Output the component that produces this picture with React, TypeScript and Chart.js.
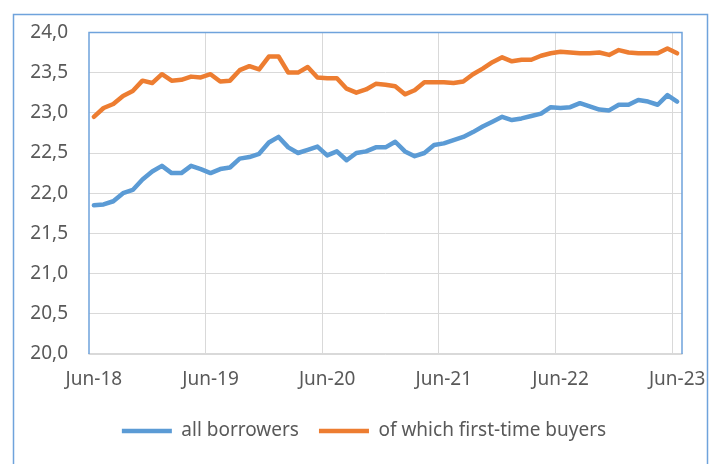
import React, { useEffect, useRef } from "react";
import { Chart, registerables } from "chart.js";

Chart.register(...registerables);

const months = [
  "Jun-18", "Jul-18", "Aug-18", "Sep-18", "Oct-18", "Nov-18", "Dec-18", "Jan-19", "Feb-19", "Mar-19", "Apr-19", "May-19",
  "Jun-19", "Jul-19", "Aug-19", "Sep-19", "Oct-19", "Nov-19", "Dec-19", "Jan-20", "Feb-20", "Mar-20", "Apr-20", "May-20",
  "Jun-20", "Jul-20", "Aug-20", "Sep-20", "Oct-20", "Nov-20", "Dec-20", "Jan-21", "Feb-21", "Mar-21", "Apr-21", "May-21",
  "Jun-21", "Jul-21", "Aug-21", "Sep-21", "Oct-21", "Nov-21", "Dec-21", "Jan-22", "Feb-22", "Mar-22", "Apr-22", "May-22",
  "Jun-22", "Jul-22", "Aug-22", "Sep-22", "Oct-22", "Nov-22", "Dec-22", "Jan-23", "Feb-23", "Mar-23", "Apr-23", "May-23",
  "Jun-23",
];

const allBorrowers = [
  21.85, 21.86, 21.9, 22.0, 22.04, 22.17, 22.27, 22.34, 22.25, 22.25, 22.34, 22.3,
  22.25, 22.3, 22.32, 22.43, 22.45, 22.49, 22.63, 22.7, 22.57, 22.5, 22.54, 22.58,
  22.47, 22.52, 22.41, 22.5, 22.52, 22.57, 22.57, 22.64, 22.52, 22.46, 22.5, 22.6,
  22.62, 22.66, 22.7, 22.76, 22.83, 22.89, 22.95, 22.91, 22.93, 22.96, 22.99, 23.07,
  23.06, 23.07, 23.12, 23.08, 23.04, 23.03, 23.1, 23.1, 23.16, 23.14, 23.1, 23.22,
  23.14,
];

const firstTimeBuyers = [
  22.95, 23.06, 23.11, 23.21, 23.27, 23.4, 23.37, 23.48, 23.4, 23.41, 23.45, 23.44,
  23.48, 23.39, 23.4, 23.53, 23.58, 23.54, 23.7, 23.7, 23.5, 23.5, 23.57, 23.44,
  23.43, 23.43, 23.3, 23.25, 23.29, 23.36, 23.35, 23.33, 23.23, 23.28, 23.38, 23.38,
  23.38, 23.37, 23.39, 23.48, 23.55, 23.63, 23.69, 23.64, 23.66, 23.66, 23.71, 23.74,
  23.76, 23.75, 23.74, 23.74, 23.75, 23.72, 23.78, 23.75, 23.74, 23.74, 23.74, 23.8,
  23.74,
];

const seriesNames = ["all borrowers", "of which first-time buyers"];
const yMin = 20;
const yMax = 24;
const yStep = 0.5;

const FONT = "'Noto Sans', sans-serif";
const TEXT = "#595959";
const GRID = "#d9d9d9";
const FRAME = "#6fa3dc";

const framePlugin = {
  id: "frames",
  afterLayout(chart: any) {
    const lg = chart.legend;
    if (lg) {
      lg.left += 23;
      lg.right += 23;
    }
  },
  beforeDraw(chart: any) {
    const ctx = chart.ctx;
    ctx.save();
    ctx.strokeStyle = FRAME;
    ctx.lineWidth = 1.5;
    ctx.beginPath();
    ctx.moveTo(13.5, 470);
    ctx.lineTo(13.5, 14.5);
    ctx.lineTo(707.5, 14.5);
    ctx.lineTo(707.5, 470);
    ctx.stroke();
    ctx.restore();
  },
  beforeDatasetsDraw(chart: any) {
    const { left, right, top, bottom } = chart.chartArea;
    const ctx = chart.ctx;
    ctx.save();
    ctx.strokeStyle = FRAME;
    ctx.lineWidth = 1.5;
    ctx.beginPath();
    ctx.moveTo(left, bottom);
    ctx.lineTo(left, top);
    ctx.lineTo(right, top);
    ctx.lineTo(right, bottom);
    ctx.stroke();
    ctx.restore();
  },
};

export default function App() {
  const ref = useRef<HTMLCanvasElement | null>(null);

  useEffect(() => {
    if (!ref.current) return;
    const chart = new Chart(ref.current, {
      type: "line",
      data: {
        labels: months,
        datasets: [
          {
            label: seriesNames[0],
            data: allBorrowers,
            borderColor: "#5b9bd5",
            backgroundColor: "#5b9bd5",
            borderWidth: 4.5,
            borderCapStyle: "round",
            borderJoinStyle: "round",
            pointRadius: 0,
            tension: 0,
          },
          {
            label: seriesNames[1],
            data: firstTimeBuyers,
            borderColor: "#ed7d31",
            backgroundColor: "#ed7d31",
            borderWidth: 4.5,
            borderCapStyle: "round",
            borderJoinStyle: "round",
            pointRadius: 0,
            tension: 0,
          },
        ],
      },
      options: {
        responsive: false,
        animation: false,
        devicePixelRatio: 1,
        layout: { padding: { left: 0, right: 38, top: 32, bottom: 13.5 } },
        scales: {
          x: {
            type: "category",
            offset: true,
            grid: {
              offset: true,
              drawTicks: false,
              lineWidth: 1,
              color: (c: any) =>
                c.type === "tick" && c.index > 0 && c.index % 12 === 0 ? GRID : "rgba(0,0,0,0)",
            },
            border: { display: true, color: GRID, width: 1.5 },
            ticks: {
              autoSkip: false,
              maxRotation: 0,
              minRotation: 0,
              padding: 14,
              color: TEXT,
              font: { family: FONT, size: 19 },
              callback: (_v: any, i: number) => (i % 12 === 0 ? months[i] : ""),
            },
            afterFit: (s: any) => {
              s.height = 47.5;
            },
          },
          y: {
            min: yMin,
            max: yMax,
            grid: { drawTicks: false, color: GRID, lineWidth: 1 },
            border: { display: false },
            ticks: {
              stepSize: yStep,
              padding: 21,
              color: TEXT,
              font: { family: FONT, size: 19 },
              callback: (v: any) => Number(v).toFixed(1).replace(".", ","),
            },
            afterFit: (s: any) => {
              s.width = 89;
            },
          },
        },
        plugins: {
          legend: {
            position: "bottom",
            labels: {
              usePointStyle: true,
              pointStyle: "line",
              pointStyleWidth: 50,
              boxHeight: 5,
              padding: 20,
              color: TEXT,
              font: { family: FONT, size: 19 },
            },
          },
          tooltip: { enabled: false },
        },
      },
      plugins: [framePlugin],
    });
    return () => chart.destroy();
  }, []);

  return (
    <div style={{ position: "fixed", left: 0, top: 0, width: 720, height: 464, background: "#fff" }}>
      <canvas ref={ref} width={720} height={464} />
    </div>
  );
}
